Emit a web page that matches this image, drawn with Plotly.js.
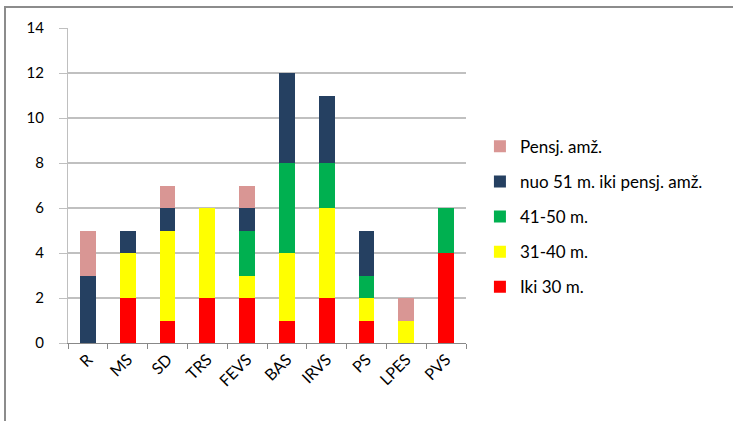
<!DOCTYPE html>
<html><head><meta charset="utf-8">
<script src="https://cdn.plot.ly/plotly-3.0.1.min.js"></script>
<style>
html,body{margin:0;padding:0;background:#fff;width:733px;height:421px;overflow:hidden;}
#frame{position:absolute;left:4px;top:6px;width:729px;height:415px;border-left:2px solid #8c8c8c;border-top:2px solid #8c8c8c;}
#chart{width:727px;height:413px;}
</style></head>
<body>
<div id="frame"><div id="chart"></div></div>
<script>
const categories = ["R","MS","SD","TRS","FEVS","BAS","IRVS","PS","LPES","PVS"];
const iki30   = [0,2,1,2,2,1,2,1,0,4];
const m31_40  = [0,2,4,4,1,3,4,1,1,0];
const m41_50  = [0,0,0,0,2,4,2,1,0,2];
const nuo51   = [3,1,1,0,1,4,3,2,0,0];
const pensj   = [2,0,1,0,1,0,0,0,1,0];
const seriesNames = ["Iki 30 m.","31-40 m.","41-50 m.","nuo 51 m. iki pensj. amž.","Pensj. amž."];
const seriesColors = ["#FF0000","#FFFF00","#00B050","#254061","#D99694"];
const yTicks = [0,2,4,6,8,10,12,14];

const seriesData = [iki30, m31_40, m41_50, nuo51, pensj];
const traces = seriesData.map((vals,i)=>({
  type:'bar', x:categories, y:vals, name:seriesNames[i],
  marker:{color:seriesColors[i], line:{width:0}},
  legendgroup:'g'+i, legendrank:100-i, hoverinfo:'none'
}));

const font = "Lato, 'Open Sans', sans-serif";
const layout = {
  width:727, height:413,
  margin:{l:62, r:267, t:20, b:78},
  barmode:'stack', bargap:0.6,
  paper_bgcolor:'#fff', plot_bgcolor:'#fff',
  font:{family:font, size:15, color:'#000'},
  xaxis:{type:'category', tickson:'boundaries', ticks:'outside', ticklen:5, tickcolor:'#888',
    showline:true, linecolor:'#888', linewidth:1, showgrid:false, tickangle:-45,
    tickfont:{family:font, size:16, color:'#000'}},
  yaxis:{range:[0,14], tickvals:yTicks, ticktext:yTicks.map(String), ticks:'outside', ticklen:8, tickcolor:'#bfbfbf',
    showline:true, linecolor:'#bfbfbf', linewidth:1, gridcolor:'#c0c0c0', gridwidth:1.3,
    zeroline:false, ticklabelstandoff:12, tickfont:{family:font, size:15, color:'#000'}},
  showlegend:true,
  legend:{x:1.035, xanchor:'left', y:0.68, yanchor:'top', traceorder:'grouped', tracegroupgap:10,
    font:{family:font, size:17, color:'#000'}, itemwidth:30, bgcolor:'rgba(0,0,0,0)'}
};
Plotly.newPlot('chart', traces, layout, {displayModeBar:false, staticPlot:true});
</script>
</body></html>
